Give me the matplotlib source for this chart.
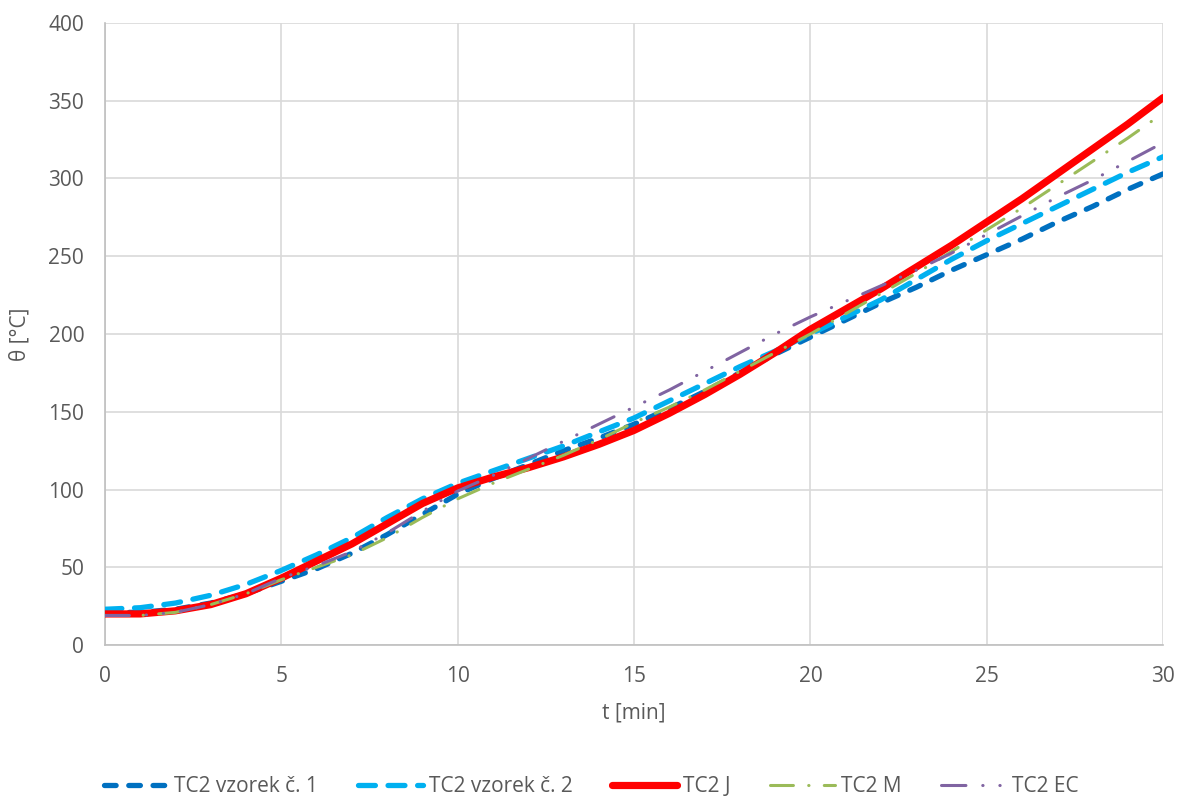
import numpy as np
import matplotlib.pyplot as plt

plt.rcParams['font.family'] = ['Open Sans', 'DejaVu Sans']

# time [min]
t = np.arange(0, 31)

tc2_v1 = [21, 21, 23, 27, 33, 41, 49, 59, 71, 84, 97, 107, 116, 125, 133, 142,
          152, 163, 175, 187, 198, 209, 220, 230, 241, 251, 261, 272, 282, 293, 303]
tc2_v2 = [23, 24, 27, 32, 39, 48, 58, 69, 82, 94, 104, 112, 120, 128, 137, 146,
          157, 168, 179, 189, 200, 211, 222, 235, 248, 260, 271, 282, 293, 304, 314]
tc2_j = [20, 20, 22, 26, 33, 43, 54, 65, 78, 91, 101, 108, 114, 121, 129, 138,
         149, 161, 174, 188, 203, 216, 229, 243, 257, 272, 287, 303, 319, 335, 352]
tc2_m = [19, 19, 21, 26, 33, 42, 50, 58, 69, 82, 94, 104, 113, 122, 132, 143,
         153, 164, 176, 188, 200, 213, 226, 239, 253, 267, 281, 296, 311, 326, 342]
tc2_ec = [19, 19, 21, 26, 33, 43, 51, 60, 72, 86, 99, 109, 120, 131, 142, 153,
          164, 176, 188, 200, 211, 221, 231, 241, 252, 264, 276, 288, 299, 311, 323]

labels = ['TC2 vzorek č. 1', 'TC2 vzorek č. 2', 'TC2 J', 'TC2 M', 'TC2 EC']

fig = plt.figure(figsize=(11.82, 7.98), dpi=100)
ax = fig.add_axes([0.0888, 0.1917, 0.8952, 0.7795])

common = dict(dash_capstyle='round', dash_joinstyle='round')
ax.plot(t, tc2_v1, color='#0070c0', lw=3.8, dashes=(2.2, 2.4),
        label=labels[0], zorder=3, **common)
ax.plot(t, tc2_v2, color='#00b0f0', lw=3.8, dashes=(3.2, 2.4),
        label=labels[1], zorder=3, **common)
ax.plot(t, tc2_j, color='#ff0000', lw=5.2, solid_capstyle='round',
        solid_joinstyle='round', label=labels[2], zorder=4)
ax.plot(t, tc2_m, color='#9bbb59', lw=2.2, dashes=(7.5, 5, 0.1, 5),
        label=labels[3], zorder=5, **common)
ax.plot(t, tc2_ec, color='#8064a2', lw=2.2, dashes=(8, 5.5, 0.1, 5.5, 0.1, 5.5),
        label=labels[4], zorder=5, **common)

ax.set_xlim(0, 30)
ax.set_ylim(0, 400)
ax.set_xticks(np.arange(0, 31, 5))
ax.set_yticks(np.arange(0, 401, 50))
ax.grid(True, color='#d9d9d9', lw=1.2)
ax.set_axisbelow(True)
ax.tick_params(length=0, labelsize=15, colors='#595959', pad=15)
for side in ['top', 'right']:
    ax.spines[side].set_visible(False)
for side in ['left', 'bottom']:
    ax.spines[side].set_color('#bfbfbf')
    ax.spines[side].set_linewidth(1.2)

ax.set_xlabel('t [min]', fontsize=15, color='#595959', labelpad=11)
ax.set_ylabel('θ [°C]', fontsize=15, color='#595959', labelpad=13)

leg = fig.legend(loc='center', bbox_to_anchor=(0.5, 0.014), ncol=5,
                 frameon=False, fontsize=15, handlelength=3.1,
                 columnspacing=1.9, handletextpad=0.3, borderpad=0)
for txt in leg.get_texts():
    txt.set_color('#595959')

fig.savefig('out.png', dpi=100)
